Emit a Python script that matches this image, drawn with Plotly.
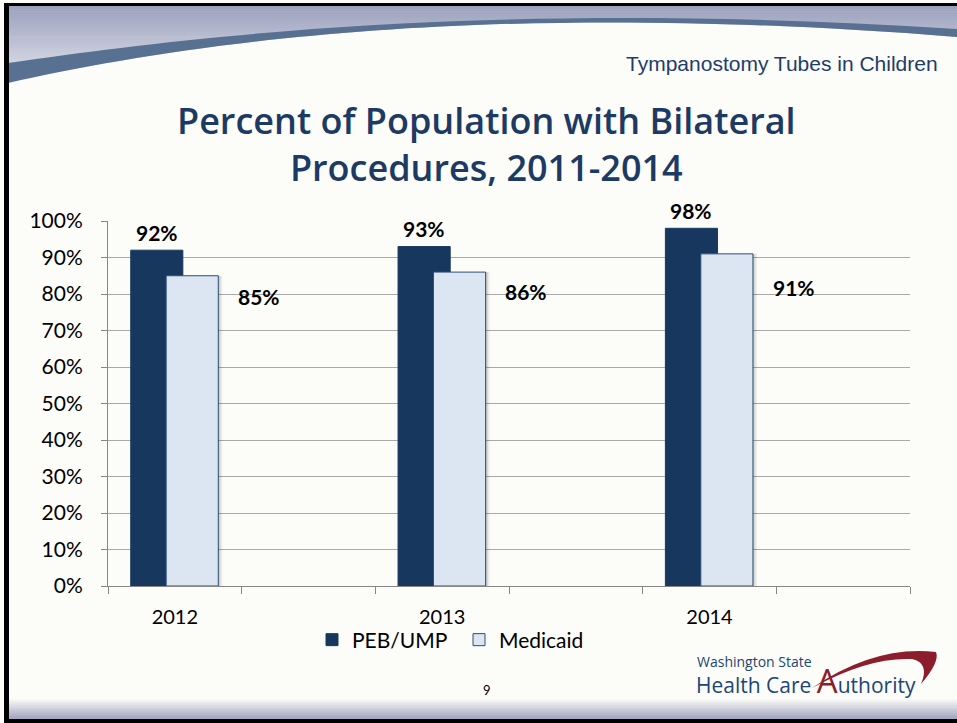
import plotly.graph_objects as go

# ---------------- data ----------------
years = ["2012", "2013", "2014"]
peb_ump = [92, 93, 98]
medicaid = [85, 86, 91]
peb_labels = ["92%", "93%", "98%"]
medicaid_labels = ["85%", "86%", "91%"]
y_ticks = [0, 10, 20, 30, 40, 50, 60, 70, 80, 90, 100]
series_names = ["PEB/UMP", "Medicaid"]

# ---------------- layout helpers ----------------
W, H = 957, 723
L, R, T, B = 108, 47, 221, 137
PW = W - L - R
PH = H - T - B


def px(x):
    return (x - L) / PW


def py(y):
    return (H - B - y) / PH


def path(cmds):
    out = []
    for c, pts in cmds:
        s = c + " " + " ".join(f"{px(a):.5f},{py(b):.5f}" for a, b in pts)
        out.append(s)
    return " ".join(out) + " Z"


# each year occupies a slot followed by an empty slot
x_pos = [2 * i for i in range(len(years))]
n_slots = 2 * len(years)

BAR_W = 0.39
PEB_OFF = -0.33
MED_OFF = -0.065

fig = go.Figure()
fig.add_bar(x=x_pos, y=peb_ump, name=series_names[0], width=BAR_W, offset=PEB_OFF,
            marker=dict(color="#17375E", line=dict(color="#1A3A62", width=1)))
# soft shadow for the front bars
for d, a in [(0.03, 0.07), (0.018, 0.10), (0.008, 0.12)]:
    fig.add_bar(x=x_pos, y=medicaid, width=BAR_W, offset=MED_OFF + d,
                marker=dict(color=f"rgba(40,40,40,{a})", line_width=0),
                showlegend=False, hoverinfo="skip")
fig.add_bar(x=x_pos, y=medicaid, name=series_names[1], width=BAR_W, offset=MED_OFF,
            marker=dict(color="#DCE6F2", line=dict(color="#2E4F78", width=1)))

annotations = []
label_font = dict(family="Lato", size=21, color="#000000")
for xp, v, t in zip(x_pos, peb_ump, peb_labels):
    annotations.append(dict(x=xp + PEB_OFF + BAR_W / 2, y=v, xref="x", yref="y",
                            text=f"<b>{t}</b>", showarrow=False, yshift=18,
                            font=label_font, yanchor="middle"))
med_label_dy = [-21, -19, -34]
for xp, v, t, dy in zip(x_pos, medicaid, medicaid_labels, med_label_dy):
    annotations.append(dict(x=xp + 0.63, y=v, xref="x", yref="y",
                            text=f"<b>{t}</b>", showarrow=False, yshift=dy,
                            font=label_font, yanchor="middle"))

# titles and slide text
title_color = "#1C3A63"
title_font = dict(family="Open Sans", size=36, color=title_color, weight=600)
annotations += [
    dict(x=px(486), y=py(144), xref="paper", yref="paper", showarrow=False,
         text="Percent of Population with Bilateral<br>Procedures, 2011-2014",
         font=title_font, yanchor="middle", align="center"),
    dict(x=px(940), y=py(63), xref="paper", yref="paper", showarrow=False,
         text="Tympanostomy Tubes in Children", xanchor="right", yanchor="middle",
         font=dict(family="Liberation Sans", size=21, color="#1F3D6B")),
    dict(x=px(487), y=py(690), xref="paper", yref="paper", showarrow=False,
         text="9", font=dict(family="Lato", size=13, color="#000000"), yanchor="middle"),
    dict(x=px(695), y=py(661), xref="paper", yref="paper", showarrow=False,
         text="Washington State", xanchor="left", yanchor="middle",
         font=dict(family="Open Sans", size=14, color="#1B4677")),
    dict(x=px(694), y=py(680), xref="paper", yref="paper", showarrow=False,
         text="Health Care <span style='color:#8B1D2C;font-size:33px'>A</span>uthority",
         xanchor="left", yanchor="middle",
         font=dict(family="Open Sans", size=21, color="#1B4677")),
]

shapes = []
# top gradient band
top0, top1 = 5, 88
c0, c1 = (156, 161, 190), (232, 234, 240)
steps = 40
for i in range(steps):
    y0 = top0 + (top1 - top0) * i / steps
    y1 = top0 + (top1 - top0) * (i + 1) / steps + 0.6
    f = i / (steps - 1)
    col = tuple(int(c0[k] + (c1[k] - c0[k]) * f) for k in range(3))
    shapes.append(dict(type="rect", xref="paper", yref="paper",
                       x0=px(8), x1=px(W), y0=py(y1), y1=py(y0),
                       fillcolor=f"rgb{col}", line_width=0, layer="above"))
# white area below the swoosh
shapes.append(dict(type="path", xref="paper", yref="paper", layer="above",
                   path=path([("M", [(W, 37)]), ("C", [(500, 0), (200, 40), (8, 83)]),
                              ("L", [(8, 95)]), ("L", [(W, 95)])]),
                   fillcolor="#FCFCF8", line_width=0))
# swoosh band
shapes.append(dict(type="path", xref="paper", yref="paper", layer="above",
                   path=path([("M", [(8, 63)]), ("C", [(200, 35), (500, 0), (W, 29)]),
                              ("L", [(W, 37)]), ("C", [(500, 0), (200, 40), (8, 83)])]),
                   fillcolor="#587193", line_width=0))
# bottom gradient band
b0, b1 = 698, 720
bc0, bc1 = (252, 252, 248), (158, 163, 190)
for i in range(12):
    y0 = b0 + (b1 - b0) * i / 12
    y1 = b0 + (b1 - b0) * (i + 1) / 12 + 0.6
    f = i / 11
    col = tuple(int(bc0[k] + (bc1[k] - bc0[k]) * f) for k in range(3))
    shapes.append(dict(type="rect", xref="paper", yref="paper",
                       x0=px(8), x1=px(W), y0=py(y1), y1=py(y0),
                       fillcolor=f"rgb{col}", line_width=0, layer="above"))
# slide frame
for (x0, y0, x1, y1) in [(4, 3, 9, 722), (4, 3, W, 6), (4, 719, W, 723)]:
    shapes.append(dict(type="rect", xref="paper", yref="paper",
                       x0=px(x0), x1=px(x1), y0=py(y1), y1=py(y0),
                       fillcolor="#000000", line_width=0, layer="above"))
# logo arc
shapes.append(dict(type="path", xref="paper", yref="paper", layer="above",
                   path=path([("M", [(812, 688)]), ("Q", [(875, 645), (936, 652)]),
                              ("Q", [(940, 662), (921, 684)]),
                              ("Q", [(930, 663), (912, 659)]),
                              ("Q", [(868, 657), (812, 688)])]),
                   fillcolor="#8B1D2C", line_width=0))

axis_grey = "#868686"
fig.update_layout(
    width=W, height=H,
    margin=dict(l=L, r=R, t=T, b=B, pad=0),
    paper_bgcolor="#FCFCF8", plot_bgcolor="#FCFCF8",
    barmode="overlay",
    showlegend=True,
    legend=dict(orientation="h", x=px(312), y=py(640), xanchor="left", yanchor="middle",
                font=dict(family="Lato", size=21, color="#000000"),
                entrywidth=102, entrywidthmode="pixels", bgcolor="rgba(0,0,0,0)",
                traceorder="normal"),
    xaxis=dict(range=[-0.5, n_slots - 0.5], tickvals=x_pos, ticktext=years, ticks="",
               showgrid=False, zeroline=False, showline=True, linecolor=axis_grey,
               linewidth=1, tickfont=dict(family="Lato", size=20, color="#000000"),
               ticklabelstandoff=13,
               minor=dict(tickvals=[i - 0.5 for i in range(n_slots + 1)], ticks="outside",
                          ticklen=7, tickcolor=axis_grey, showgrid=False)),
    yaxis=dict(range=[0, 100], tickvals=y_ticks, ticktext=[f"{v}%" for v in y_ticks],
               ticks="outside", ticklen=6, tickcolor=axis_grey, showgrid=True,
               gridcolor="#A9A9A9", gridwidth=1, zeroline=False, showline=True,
               linecolor=axis_grey, linewidth=1, ticklabelstandoff=14,
               tickfont=dict(family="Lato", size=21, color="#000000")),
    annotations=annotations,
    shapes=shapes,
)

fig.write_html("out.html")
